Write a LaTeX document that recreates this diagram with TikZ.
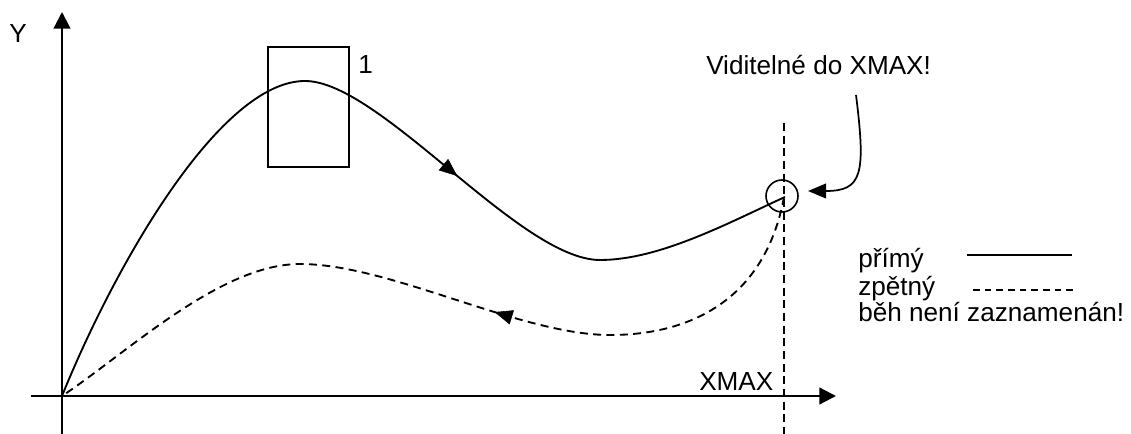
\documentclass[tikz,border=0pt]{standalone}
\usepackage{fontspec}
\setmainfont{Liberation Sans}
\usetikzlibrary{arrows.meta,decorations.markings}
\begin{document}
\begin{tikzpicture}[x=0.75pt,y=-0.75pt,
  lbl/.style={anchor=base west,inner sep=0pt,font=\fontsize{19.6}{24}\selectfont},
  axis/.style={line width=1.6pt,-{Triangle[length=12.5pt,width=12.5pt]}},
  curve/.style={line width=1.4pt},
  back/.style={line width=1.4pt,dash pattern=on 6pt off 4pt},
  guide/.style={line width=1.4pt,dash pattern=on 6pt off 3.5pt},
  tipped/.style={-{Triangle[length=13.5pt,width=11pt]}},
  midarrow/.style={postaction={decorate},decoration={markings,mark=at position #1 with {\arrow{Triangle[length=13.5pt,width=11pt]}}}},
]
\useasboundingbox (0,0) rectangle (1131,434);
% coordinates
\coordinate (O) at (62,396);
\coordinate (ytop) at (62,12);
\coordinate (ybot) at (62,434);
\coordinate (xl) at (31,396);
\coordinate (xr) at (836,396);
\coordinate (peak) at (305,81);
\coordinate (smin) at (600,260);
\coordinate (send) at (785,197);
\coordinate (dstart) at (784,197);
\coordinate (dmin) at (610,335);
\coordinate (dpeak) at (300,264);
\coordinate (gtop) at (784,123);
\coordinate (gbot) at (784,434);
\coordinate (cstart) at (856,95);
\coordinate (ctip) at (808,191);
\coordinate (l1a) at (967,255);
\coordinate (l1b) at (1072,255);
\coordinate (l2a) at (973,290);
\coordinate (l2b) at (1077,290);
% axes
\draw[axis] (ybot) -- (ytop);
\draw[axis] (xl) -- (xr);
% box and ring
\node[draw,line width=1.1pt,minimum width=60.75pt,minimum height=90pt,inner sep=0pt] (box) at (308.5,107) {};
\node[draw,circle,line width=1.2pt,minimum size=24pt,inner sep=0pt] (ring) at (782,196) {};
% guide line
\draw[guide] (gtop) -- (gbot);
% forward curve
\draw[curve] (O) .. controls (115,265) and (220,81) .. (peak)
  .. controls (380,81) and (520,260) .. (smin)
  .. controls (660,260) and (730,222) .. (send);
\path[midarrow=0.52] (peak) .. controls (380,81) and (520,260) .. (smin);
% backward curve
\draw[back] (dstart) .. controls (765,300) and (690,335) .. (dmin)
  .. controls (520,335) and (390,264) .. (dpeak)
  .. controls (220,264) and (127,353) .. (O);
\path[midarrow=0.37] (dmin) .. controls (520,335) and (390,264) .. (dpeak);
% callout
\draw[line width=1.3pt,tipped] (cstart) .. controls (866,175) and (862,191) .. (ctip);
% legend
\draw[line width=1.3pt] (l1a) -- (l1b);
\draw[line width=1.3pt,dash pattern=on 5pt off 3.75pt] (l2a) -- (l2b);
% labels
\node[lbl] (ylab) at (9,43) {Y};
\node[lbl] (boxlab) at (358,74) {1};
\node[lbl] (vis) at (706,75) {Viditelné do XMAX!};
\node[lbl] (xmax) at (699,390) {XMAX};
\node[lbl] (leg1) at (858,268) {přímý};
\node[lbl] (leg2) at (858,296) {zpětný};
\node[lbl] (leg3) at (858,322) {běh není zaznamenán!};
\end{tikzpicture}
\end{document}
